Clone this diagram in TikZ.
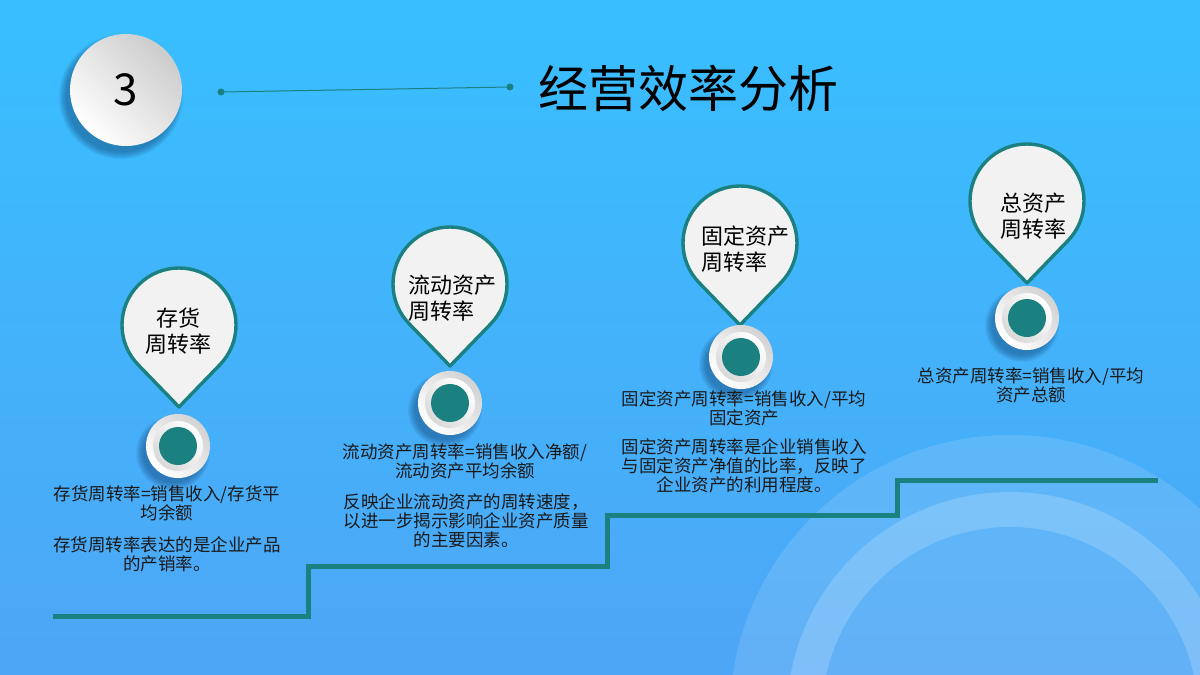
\documentclass[tikz,border=0pt]{standalone}
\usepackage{fontspec}
\setmainfont{Noto Sans CJK SC}
\usetikzlibrary{calc}
\definecolor{teal1}{RGB}{27,128,128}
\definecolor{bgtop}{RGB}{56,191,255}
\definecolor{bgbot}{RGB}{78,166,246}
\definecolor{pinfill}{RGB}{242,242,242}
\definecolor{shadowc}{RGB}{20,70,120}
\tikzset{
  pinline/.style={draw=teal1, line width=3.4pt, fill=pinfill, line join=round},
  stairline/.style={draw=teal1, line width=5pt},
  bodytext/.style={font=\fontsize{17.5}{19}\selectfont, align=center, inner sep=0pt, text=black!90},
  pintext/.style={font=\fontsize{22}{26}\selectfont, inner sep=0pt, text=black},
  shadowdisc/.style={fill=shadowc, opacity=0.075},
}
\newcommand{\mysoftshadow}[3]{%
  \foreach \k in {0,...,7} {\fill[shadowdisc] (#1-5,#2+7) circle[radius=#3+\k];}%
}
\newcommand{\mypin}[3]{%
  \coordinate (#3c) at (#1,#2);
  \coordinate (#3tip) at (#1,#2+82);
  \draw[pinline] (#3tip) -- ($(#3c)+(135:57)$) arc[start angle=135,end angle=405,radius=57] -- cycle;
}
\newcommand{\mybutton}[3]{%
  \coordinate (#3b) at (#1,#2);
  \mysoftshadow{#1}{#2}{30}
  \shade[top color=gray!35, bottom color=white, shading angle=-45] (#3b) circle[radius=32];
  \shade[top color=white, bottom color=gray!30, shading angle=-45] (#3b) circle[radius=25];
  \fill[teal1] (#3b) circle[radius=19];
}
\begin{document}
\begin{tikzpicture}[x=1pt,y=-1pt]
  % background
  \shade[top color=bgtop, bottom color=bgbot] (0,0) rectangle (1200,675);
  \useasboundingbox (0,0) rectangle (1200,675);
  % decorative circles
  \begin{scope}
    \clip (0,0) rectangle (1200,675);
    \fill[white, opacity=0.12] (1010,715) circle[radius=280];
    \fill[white, opacity=0.18, even odd rule] (1010,715) circle[radius=223] (1010,715) circle[radius=188];
  \end{scope}
  % number circle
  \mysoftshadow{126}{90}{55}
  \shade[top color=gray!40, bottom color=white, shading angle=-45] (126,90) circle[radius=56];
  \node[font=\fontsize{44}{50}\selectfont, inner sep=0pt] (num) at (126,90) {3};
  % title line
  \coordinate (la) at (221,92);
  \coordinate (lb) at (510,87);
  \draw[teal1, line width=1pt] (la) -- (lb);
  \fill[teal1] (la) circle[radius=3.5];
  \fill[teal1] (lb) circle[radius=3.5];
  \node[font=\fontsize{50}{56}\selectfont, inner sep=0pt] (title) at (688,88) {经营效率分析};
  % stairs
  \coordinate (s0) at (53,616);
  \coordinate (s1) at (308,616);
  \coordinate (s2) at (308,566);
  \coordinate (s3) at (607,566);
  \coordinate (s4) at (607,515);
  \coordinate (s5) at (897,515);
  \coordinate (s6) at (897,480);
  \coordinate (s7) at (1158,480);
  \draw[stairline] (s0) -- (s1) -- (s2) -- (s3) -- (s4) -- (s5) -- (s6) -- (s7);
  % pins
  \mypin{179}{325}{p1}
  \mypin{450}{284}{p2}
  \mypin{740}{243}{p3}
  \mypin{1027}{201}{p4}
  \node[pintext, align=center] (t1) at (178,331) {存货\\周转率};
  \node[pintext, align=left, anchor=west] (t2) at (408,298) {流动资产\\周转率};
  \node[pintext, align=left, anchor=west] (t3) at (701,249) {固定资产\\周转率};
  \node[pintext, align=left, anchor=west] (t4) at (1000,216) {总资产\\周转率};
  % buttons
  \mybutton{178}{446}{q1}
  \mybutton{450}{403}{q2}
  \mybutton{741}{357}{q3}
  \mybutton{1027}{318}{q4}
  % body texts
  \node[bodytext] (a1) at (167,503) {存货周转率=销售收入/存货平\\均余额};
  \node[bodytext] (a2) at (167,554) {存货周转率表达的是企业产品\\的产销率。};
  \node[bodytext] (b1) at (465,461) {流动资产周转率=销售收入净额/\\流动资产平均余额};
  \node[bodytext] (b2) at (466,521) {反映企业流动资产的周转速度，\\以进一步揭示影响企业资产质量\\的主要因素。};
  \node[bodytext] (c1) at (744,408) {固定资产周转率=销售收入/平均\\固定资产};
  \node[bodytext] (c2) at (744,466) {固定资产周转率是企业销售收入\\与固定资产净值的比率，反映了\\企业资产的利用程度。};
  \node[bodytext] (d1) at (1031,385) {总资产周转率=销售收入/平均\\资产总额};
\end{tikzpicture}
\end{document}
